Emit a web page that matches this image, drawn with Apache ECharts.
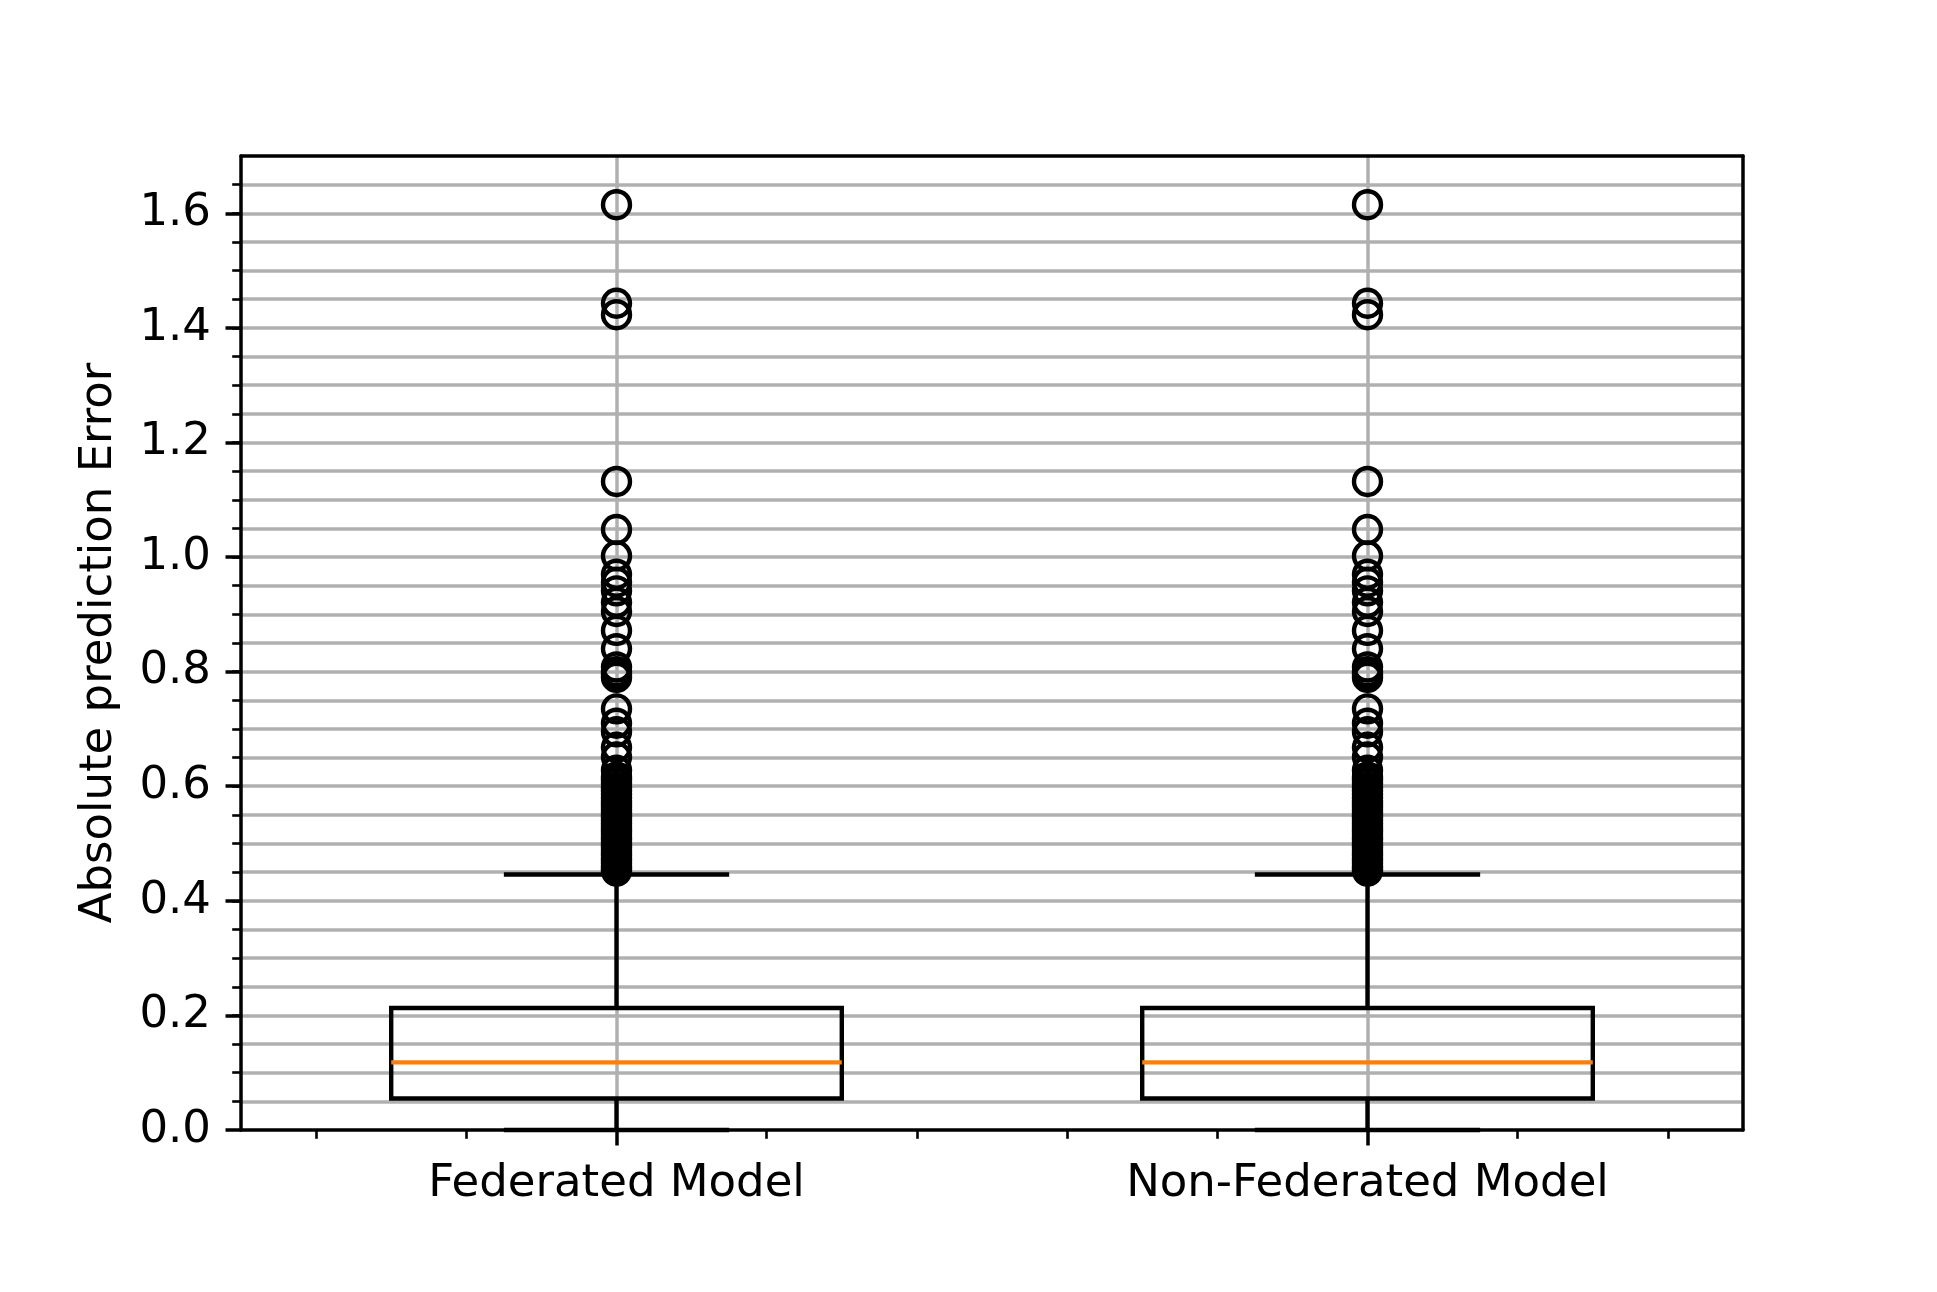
<!DOCTYPE html>
<html><head><meta charset="utf-8">
<script src="https://cdn.jsdelivr.net/npm/echarts@6/dist/echarts.min.js"></script>
<style>html,body{margin:0;padding:0;background:#fff;} #c{width:1937px;height:1292px;}</style>
</head><body><div id="c"></div>
<script>
// ---- data ----
const categories = ['Federated Model', 'Non-Federated Model'];
const categoryPositions = [1, 2];
// [lower whisker, Q1, median, Q3, upper whisker]
const federatedBox = [0.0, 0.055, 0.118, 0.213, 0.446];
const nonFederatedBox = [0.0, 0.055, 0.118, 0.213, 0.446];
const federatedOutliers = [0.452, 0.456, 0.460, 0.465, 0.470, 0.474, 0.479, 0.483, 0.488, 0.493, 0.497,
  0.502, 0.507, 0.511, 0.516, 0.521, 0.525, 0.530, 0.535, 0.540, 0.545, 0.549, 0.554, 0.559, 0.564,
  0.569, 0.574, 0.580, 0.586, 0.592, 0.598, 0.605, 0.611, 0.616, 0.628, 0.651, 0.668, 0.695, 0.710,
  0.735, 0.790, 0.795, 0.800, 0.808, 0.840, 0.872, 0.905, 0.921, 0.941, 0.956, 0.970, 1.002, 1.048,
  1.132, 1.423, 1.443, 1.615];
const nonFederatedOutliers = [0.452, 0.456, 0.460, 0.465, 0.470, 0.474, 0.479, 0.483, 0.488, 0.493, 0.497,
  0.502, 0.507, 0.511, 0.516, 0.521, 0.525, 0.530, 0.535, 0.540, 0.545, 0.549, 0.554, 0.559, 0.564,
  0.569, 0.574, 0.580, 0.586, 0.592, 0.598, 0.605, 0.611, 0.616, 0.628, 0.651, 0.668, 0.695, 0.710,
  0.735, 0.790, 0.795, 0.800, 0.808, 0.840, 0.872, 0.905, 0.921, 0.941, 0.956, 0.970, 1.002, 1.048,
  1.132, 1.423, 1.443, 1.615];
const yMajorTicks = [0, 0.2, 0.4, 0.6, 0.8, 1.0, 1.2, 1.4, 1.6];
const yGridTicks = [0.05, 0.1, 0.15, 0.2, 0.25, 0.3, 0.35, 0.4, 0.45, 0.5, 0.55, 0.6, 0.65, 0.7, 0.75,
  0.8, 0.85, 0.9, 0.95, 1.0, 1.05, 1.1, 1.15, 1.2, 1.25, 1.3, 1.35, 1.4, 1.45, 1.5, 1.55, 1.6, 1.65];
const xMinorTicks = [0.6, 0.8, 1.2, 1.4, 1.6, 1.8, 2.2, 2.4];
const yMin = 0, yMax = 1.7, xMin = 0.5, xMax = 2.5;

// ---- styles ----
const FONT = 'DejaVu Sans';
const FS = 45;
const LW = 4.4, SPINE = 3.5, GRIDC = '#b0b0b0';
const boxWidth = 0.6, capWidth = 0.3;

const chart = echarts.init(document.getElementById('c'), null, {renderer: 'canvas'});

const boxData = [
  [categoryPositions[0]].concat(federatedBox),
  [categoryPositions[1]].concat(nonFederatedBox)
];
const outlierData = federatedOutliers.map(v => [categoryPositions[0], v])
  .concat(nonFederatedOutliers.map(v => [categoryPositions[1], v]));

function renderBox(params, api) {
  const x = api.value(0);
  const lo = api.coord([x, api.value(1)]);
  const q1 = api.coord([x, api.value(2)]);
  const md = api.coord([x, api.value(3)]);
  const q3 = api.coord([x, api.value(4)]);
  const hi = api.coord([x, api.value(5)]);
  const bw = api.size([boxWidth, 0])[0];
  const cw = api.size([capWidth, 0])[0];
  const cx = q1[0];
  const ls = {stroke: '#000', lineWidth: LW, fill: null};
  return {
    type: 'group',
    children: [
      {type: 'line', shape: {x1: cx, y1: q1[1], x2: cx, y2: lo[1]}, style: ls},
      {type: 'line', shape: {x1: cx, y1: q3[1], x2: cx, y2: hi[1]}, style: ls},
      {type: 'line', shape: {x1: cx - cw / 2, y1: lo[1], x2: cx + cw / 2, y2: lo[1]}, style: ls},
      {type: 'line', shape: {x1: cx - cw / 2, y1: hi[1], x2: cx + cw / 2, y2: hi[1]}, style: ls},
      {type: 'rect', shape: {x: cx - bw / 2, y: q3[1], width: bw, height: q1[1] - q3[1]},
        style: {stroke: '#000', lineWidth: LW, fill: null}},
      {type: 'line', shape: {x1: cx - bw / 2, y1: md[1], x2: cx + bw / 2, y2: md[1]},
        style: {stroke: '#ff7f0e', lineWidth: LW}}
    ]
  };
}

const option = {
  backgroundColor: '#fff',
  animation: false,
  grid: {left: 241, right: 194, top: 156, bottom: 162, containLabel: false},
  xAxis: [
    {
      type: 'value', min: xMin, max: xMax, position: 'bottom',
      axisLine: {show: true, onZero: false, lineStyle: {color: '#000', width: SPINE}},
      axisTick: {show: true, customValues: categoryPositions, length: 15.5, lineStyle: {color: '#000', width: SPINE}},
      axisLabel: {show: true, customValues: categoryPositions,
        formatter: v => categories[categoryPositions.indexOf(v)],
        fontSize: FS, fontFamily: FONT, color: '#000', margin: 32},
      splitLine: {show: true, lineStyle: {color: GRIDC, width: SPINE}}
    },
    {
      type: 'value', min: xMin, max: xMax, position: 'bottom',
      axisLine: {show: false, onZero: false},
      axisTick: {show: true, customValues: xMinorTicks, length: 8.8, lineStyle: {color: '#000', width: 2.6}},
      axisLabel: {show: false},
      splitLine: {show: false}
    },
    {
      type: 'value', min: xMin, max: xMax, position: 'top',
      axisLine: {show: true, onZero: false, lineStyle: {color: '#000', width: SPINE}},
      axisTick: {show: false}, axisLabel: {show: false}, splitLine: {show: false}
    }
  ],
  yAxis: [
    {
      type: 'value', min: yMin, max: yMax, position: 'left',
      axisLine: {show: true, onZero: false, lineStyle: {color: '#000', width: SPINE}},
      axisTick: {show: true, customValues: yGridTicks, length: 8.8, lineStyle: {color: '#000', width: 2.6}},
      axisLabel: {show: false},
      splitLine: {show: true, lineStyle: {color: GRIDC, width: SPINE}}
    },
    {
      type: 'value', min: yMin, max: yMax, position: 'left',
      name: 'Absolute prediction Error', nameLocation: 'middle', nameGap: 119,
      nameTextStyle: {fontSize: FS, fontFamily: FONT, color: '#000'},
      axisLine: {show: false, onZero: false},
      axisTick: {show: true, customValues: yMajorTicks, length: 15.5, lineStyle: {color: '#000', width: SPINE}},
      axisLabel: {show: true, customValues: yMajorTicks, formatter: v => v.toFixed(1),
        fontSize: FS, fontFamily: FONT, color: '#000', margin: 30},
      splitLine: {show: false}
    },
    {
      type: 'value', min: yMin, max: yMax, position: 'right',
      axisLine: {show: true, onZero: false, lineStyle: {color: '#000', width: SPINE}},
      axisTick: {show: false}, axisLabel: {show: false}, splitLine: {show: false}
    }
  ],
  series: [
    {
      type: 'custom', name: 'box', xAxisIndex: 0, yAxisIndex: 0,
      renderItem: renderBox, data: boxData,
      encode: {x: 0, y: [1, 2, 3, 4, 5]}, clip: false, z: 3
    },
    {
      type: 'scatter', name: 'outliers', xAxisIndex: 0, yAxisIndex: 0,
      data: outlierData, symbol: 'circle', symbolSize: 27,
      itemStyle: {color: 'rgba(0,0,0,0)', borderColor: '#000', borderWidth: LW, opacity: 1},
      z: 4, silent: true
    }
  ]
};
chart.setOption(option);
</script></body></html>
